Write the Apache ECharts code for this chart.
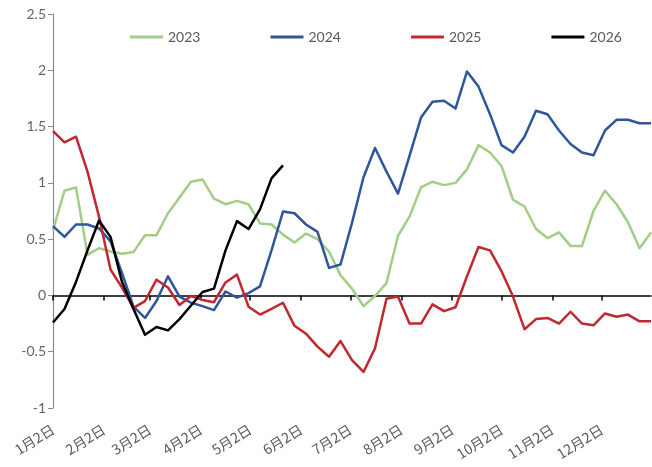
<!DOCTYPE html>
<html>
<head>
<meta charset="utf-8">
<script src="https://cdn.jsdelivr.net/npm/echarts@6/dist/echarts.min.js"></script>
<style>
  html, body { margin: 0; padding: 0; background: #fff; }
  #main { width: 652px; height: 467px; }
</style>
</head>
<body>
<div id="main"></div>
<script>
// 每周一个点，横轴按天数（1月2日为第0天）
const weekDays = Array.from({ length: 53 }, (_, i) => i * 7)
// 月份刻度：1月2日起的天数及标签
const monthDays = [0, 31, 59, 90, 120, 151, 181, 212, 243, 273, 304, 334]
const monthLabels = ['1月2日', '2月2日', '3月2日', '4月2日', '5月2日', '6月2日', '7月2日', '8月2日', '9月2日', '10月2日', '11月2日', '12月2日']
const yTicks = [-1, -0.5, 0, 0.5, 1, 1.5, 2, 2.5]

const s2023 = [0.58, 0.93, 0.96, 0.36, 0.42, 0.39, 0.37, 0.385, 0.535, 0.535, 0.73, 0.87, 1.01, 1.03, 0.86, 0.81, 0.84, 0.81,
  0.64, 0.63, 0.54, 0.47, 0.55, 0.50, 0.39, 0.18, 0.06, -0.095, -0.005, 0.11, 0.53, 0.70, 0.96, 1.01, 0.98, 1.0,
  1.12, 1.335, 1.27, 1.15, 0.85, 0.79, 0.59, 0.51, 0.56, 0.44, 0.44, 0.75, 0.93, 0.81, 0.65, 0.42, 0.56]
const s2024 = [0.615, 0.52, 0.63, 0.63, 0.595, 0.48, 0.2, -0.1, -0.2, -0.05, 0.17, -0.01, -0.065, -0.095, -0.13, 0.035, -0.02, 0.02,
  0.08, 0.40, 0.745, 0.73, 0.63, 0.565, 0.245, 0.275, 0.645, 1.05, 1.31, 1.10, 0.905, 1.24, 1.58, 1.72, 1.73, 1.66,
  1.99, 1.855, 1.61, 1.335, 1.27, 1.41, 1.64, 1.61, 1.465, 1.345, 1.27, 1.245, 1.465, 1.56, 1.56, 1.53, 1.53]
const s2025 = [1.46, 1.36, 1.41, 1.10, 0.70, 0.23, 0.07, -0.11, -0.05, 0.14, 0.07, -0.085, -0.005, -0.04, -0.06, 0.115, 0.185, -0.10,
  -0.17, -0.12, -0.065, -0.27, -0.34, -0.455, -0.545, -0.405, -0.575, -0.68, -0.47, -0.03, -0.01, -0.25, -0.25, -0.08, -0.14, -0.105,
  0.17, 0.43, 0.40, 0.215, -0.01, -0.30, -0.21, -0.20, -0.25, -0.145, -0.25, -0.265, -0.16, -0.19, -0.17, -0.23, -0.23]
const s2026 = [-0.24, -0.12, 0.12, 0.40, 0.665, 0.52, 0.12, -0.12, -0.35, -0.28, -0.31, -0.21, -0.09, 0.03, 0.06, 0.40, 0.66, 0.59,
  0.765, 1.04, 1.155]

const seriesNames = ['2023', '2024', '2025', '2026']
const seriesValues = [s2023, s2024, s2025, s2026]
const seriesColors = ['#a1cd86', '#2f559a', '#c0282f', '#000000']

const numFont = 'Lato, "Noto Sans", sans-serif'
const cjkFont = '"Noto Sans CJK SC", sans-serif'

const myChart = echarts.init(document.querySelector('#main'))
const option = {
  animation: false,
  backgroundColor: '#fff',
  grid: { left: 53, right: 1, top: 14, bottom: 59, containLabel: false },
  legend: {
    left: 125,
    top: 25,
    itemGap: 70,
    itemWidth: 33,
    itemHeight: 3,
    icon: 'rect',
    textStyle: { color: '#595959', fontSize: 14, fontFamily: numFont },
    data: seriesNames,
  },
  xAxis: [
    {
      // 底部标签
      type: 'value',
      min: 0,
      max: 364,
      position: 'bottom',
      axisLine: { show: false, onZero: false },
      axisTick: { show: false },
      splitLine: { show: false },
      axisLabel: {
        customValues: monthDays,
        formatter: v => monthLabels[monthDays.indexOf(v)],
        rotate: 32,
        margin: 20,
        color: '#595959',
        fontSize: 14,
        fontFamily: cjkFont,
      },
    },
    {
      // 零轴线和刻度
      type: 'value',
      min: 0,
      max: 364,
      position: 'bottom',
      axisLine: { show: true, onZero: true, lineStyle: { color: '#000', width: 1.5 } },
      axisTick: { show: true, customValues: monthDays, length: 5, lineStyle: { color: '#000', width: 1.5 } },
      axisLabel: { show: false },
      splitLine: { show: false },
    },
  ],
  yAxis: {
    type: 'value',
    min: -1,
    max: 2.5,
    interval: 0.5,
    axisLine: { show: true, lineStyle: { color: '#8a8a8a', width: 1.2 } },
    axisTick: { show: true, length: 5, lineStyle: { color: '#8a8a8a' } },
    splitLine: { show: false },
    axisLabel: {
      margin: 7,
      color: '#666',
      fontSize: 14,
      fontFamily: numFont,
      formatter: v => (yTicks.includes(v) ? String(v) : ''),
    },
  },
  series: seriesNames.map((name, k) => ({
    name,
    type: 'line',
    xAxisIndex: 0,
    data: seriesValues[k].map((v, i) => [weekDays[i], v]),
    showSymbol: false,
    symbol: 'none',
    color: seriesColors[k],
    lineStyle: { color: seriesColors[k], width: 2.5, join: 'round' },
    z: 2 + k,
  })),
}
myChart.setOption(option)
</script>
</body>
</html>
